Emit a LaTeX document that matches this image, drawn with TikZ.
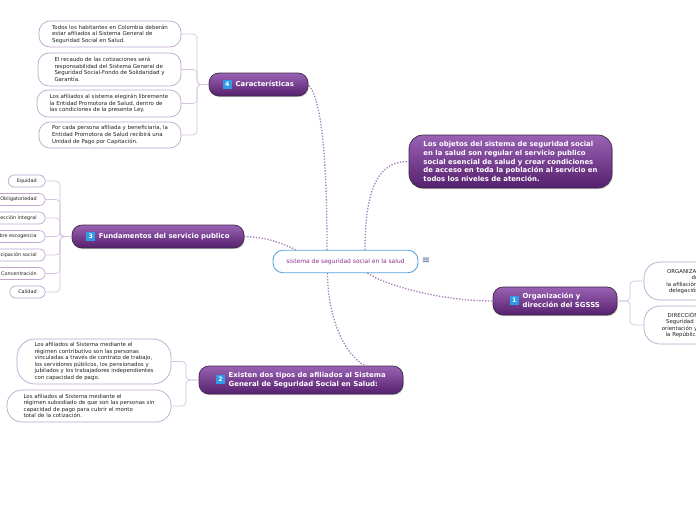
\documentclass[tikz,border=0pt]{standalone}
\usepackage{fontspec}
\setmainfont{DejaVu Sans}
\usetikzlibrary{shadows}
\definecolor{ptop}{HTML}{9A62B4}
\definecolor{pbot}{HTML}{55206D}
\definecolor{mainborder}{HTML}{3C2A45}
\definecolor{childborder}{HTML}{BFA5CF}
\definecolor{bracketcol}{HTML}{D5C3DF}
\definecolor{conncol}{HTML}{A57CBE}
\definecolor{centerborder}{HTML}{5BA3DC}
\definecolor{centertext}{HTML}{8A2F8E}
\definecolor{childtext}{HTML}{222222}
\definecolor{iconblue}{HTML}{2E9BE6}
\definecolor{menucol}{HTML}{4F6A92}
\newcommand\numbadge[1]{{\setlength{\fboxsep}{0pt}\colorbox{iconblue}{\makebox[8.5pt]{\rule[-2pt]{0pt}{8.5pt}\fontsize{6.2}{6.2}\selectfont\bfseries\textcolor{white}{#1}}}}}
\begin{document}
\begin{tikzpicture}[x=1pt,y=-1pt,
  mainbox/.style={draw=mainborder, line width=0.7pt, top color=ptop, bottom color=pbot,
    rounded corners=10pt, text=white, font=\fontsize{6.9}{8.6}\selectfont\bfseries, inner sep=0pt,
    drop shadow={opacity=0.35,shadow xshift=0.8pt,shadow yshift=-1.2pt}},
  childbox/.style={draw=childborder, line width=0.7pt, fill=white, rounded corners=11pt,
    font=\fontsize{5.45}{6.6}\selectfont, text=childtext, align=left, inner sep=0pt},
  tagbox/.style={draw=childborder, line width=0.7pt, fill=white, rounded corners=6pt,
    minimum height=12pt, inner xsep=8.5pt, inner ysep=0pt, font=\fontsize{4.9}{5}\selectfont,
    text=childtext, anchor=east},
  bracket/.style={draw=bracketcol, line width=0.7pt, rounded corners=4pt},
  conn/.style={draw=conncol, line width=1.3pt, dash pattern=on 1.3pt off 1.6pt}]
\useasboundingbox (0,0) rectangle (696,520);
\clip (0,0) rectangle (696,520);
\fill[white] (0,0) rectangle (696,520);

% central node
\node[draw=centerborder, line width=0.9pt, fill=white, rounded corners=10pt, minimum width=145pt,
  minimum height=22.5pt, inner sep=0pt, text=centertext, font=\fontsize{6}{7}\selectfont]
  (c) at (345.5,261.5) {sistema de seguridad social en la salud};
\node[text=menucol, font=\fontsize{10}{10}\selectfont, inner sep=0pt] (menu) at (426,260.5) {≡};

% main topics
\node[mainbox, minimum width=99pt, minimum height=23pt] (n4) at (258.5,84.5)
  {\numbadge{4}\hspace{4pt}Características};
\node[mainbox, minimum width=172pt, minimum height=23pt] (n3) at (158,236.5)
  {\numbadge{3}\hspace{4pt}Fundamentos del servicio publico};
\node[mainbox, minimum width=124pt, minimum height=28pt] (n1) at (555,301)
  {\numbadge{1}\hspace{4pt}\begin{tabular}[c]{@{}l@{}}Organización y\\dirección del SGSSS\end{tabular}};
\node[mainbox, minimum width=204pt, minimum height=28pt] (n2) at (301,380)
  {\numbadge{2}\hspace{4pt}\begin{tabular}[c]{@{}l@{}}Existen dos tipos de afiliados al Sistema\\General de Seguridad Social en Salud:\end{tabular}};
\node[mainbox, rounded corners=14pt, minimum width=203pt, minimum height=53pt, align=left] (obj) at (510.5,161.5)
  {Los objetos del sistema de seguridad social\\en la salud son regular el servicio publico\\social esencial de salud y crear condiciones\\de acceso en toda la población al servicio en\\todos los niveles de atención.};

% children of 4
\node[childbox, minimum width=142pt, minimum height=26pt] (c41) at (110,34)
  {Todos los habitantes en Colombia deberán\\estar afiliados al Sistema General de\\Seguridad Social en Salud.};
\node[childbox, minimum width=143pt, minimum height=33pt] (c42) at (109.5,69.5)
  {El recaudo de las cotizaciones será\\responsabilidad del Sistema General de\\Seguridad Social-Fondo de Solidaridad y\\Garantía.};
\node[childbox, minimum width=144pt, minimum height=27pt] (c43) at (109,103.5)
  {Los afiliados al sistema elegirán libremente\\la Entidad Promotora de Salud, dentro de\\las condiciones de la presente Ley.};
\node[childbox, minimum width=142pt, minimum height=26pt] (c44) at (110,135)
  {Por cada persona afiliada y beneficiaria, la\\Entidad Promotora de Salud recibirá una\\Unidad de Pago por Capitación.};

% children of 3
\node[tagbox] (t1) at (45.5,181) {Equidad};
\node[tagbox] (t2) at (45.5,199.5) {Obligatoriedad};
\node[tagbox] (t3) at (45.5,218) {Protección integral};
\node[tagbox] (t4) at (45.5,236.5) {Libre escogencia};
\node[tagbox] (t5) at (45.5,255) {Participación social};
\node[tagbox] (t6) at (45.5,273.5) {Concentración};
\node[tagbox] (t7) at (45.5,292) {Calidad};

% children of 2
\node[childbox, rounded corners=18pt, minimum width=154pt, minimum height=45pt] (c21) at (94,361.5)
  {Los afiliados al Sistema mediante el\\régimen contributivo son las personas\\vinculadas a través de contrato de trabajo,\\los servidores públicos, los pensionados y\\jubilados y los trabajadores independientes\\con capacidad de pago.};
\node[childbox, rounded corners=15pt, minimum width=164pt, minimum height=32pt] (c22) at (89,406)
  {Los afiliados al Sistema mediante el\\régimen subsidiado de que son las personas sin\\capacidad de pago para cubrir el monto\\total de la cotización.};

% children of 1
\node[childbox, rounded corners=16pt, align=center, minimum width=142pt, minimum height=38pt] (c11) at (715,281)
  {ORGANIZACIÓN: Las EPS son entes\\de responder por\\la afiliación, el registro y el recaudo\\delegación del Fondo de Garantía};
\node[childbox, rounded corners=16pt, align=center, minimum width=142pt, minimum height=38pt] (c12) at (715,325)
  {DIRECCIÓN: El Sistema General de\\Seguridad Social en Salud está bajo\\orientación y regulación del Presidente\\la República y el Ministerio de Salud};

% brackets
\foreach \k in {c41,c42,c43,c44} \draw[bracket] (n4.west) -- (197,84.5) |- (\k.east);
\foreach \k in {t1,t2,t3,t4,t5,t6,t7} \draw[bracket] (n3.west) -- (60,236.5) |- (\k.east);
\foreach \k in {c21,c22} \draw[bracket] (n2.west) -- (186,380) |- (\k.east);
\foreach \k in {c11,c12} \draw[bracket] (n1.east) -- (630,301) |- (\k.west);

% dotted connectors
\draw[conn] ([xshift=-18.5pt]c.north) .. controls (327,160) and (322,100) .. (n4.east);
\draw[conn] ([xshift=19.5pt]c.north) .. controls (365,185) and (380,161) .. (obj.west);
\draw[conn] (n3.east) .. controls (265,237) and (283,243) .. ([xshift=-50pt]c.north);
\draw[conn] ([xshift=22pt]c.south) .. controls (385,285) and (440,301) .. (n1.west);
\draw[conn] ([xshift=-18pt]c.south) .. controls (328,320) and (345,355) .. ([xshift=64pt]n2.north);
\end{tikzpicture}
\end{document}
